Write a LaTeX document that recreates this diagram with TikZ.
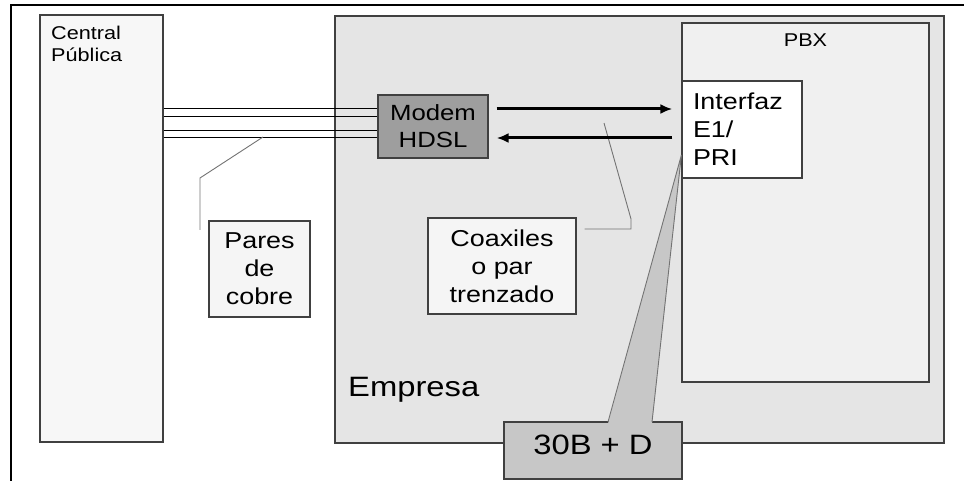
\documentclass[tikz,border=0pt]{standalone}
\usepackage{fontspec}
\setmainfont[FakeStretch=1.17]{Liberation Sans}
\usetikzlibrary{arrows.meta}

\begin{document}
\begin{tikzpicture}[x=1pt, y=-1pt, every node/.style={inner sep=0pt, align=center}, box/.style={draw=black!75, line width=1.2pt}, small/.style={font=\fontsize{18.5}{22}\selectfont}, mid/.style={font=\fontsize{23}{28}\selectfont}, big/.style={font=\fontsize{28}{32}\selectfont}, arr/.style={-{Latex[length=12pt,width=10pt]}, line width=3pt}, callout/.style={draw=black!55, line width=0.9pt}]
\useasboundingbox (0,0) rectangle (964,481);
\draw[line width=2pt] (11,481) -- (11,5.5) -- (964,5.5);
% outer areas
\node[box, fill=black!3, minimum width=123pt, minimum height=427pt] (central) at (101.5,228.5) {};
\node[small, anchor=north west, align=left] (centrallbl) at (51,25.5) {Central\\Pública};
\node[box, fill=black!10, minimum width=609pt, minimum height=427pt] (empresa) at (639.5,229.5) {};
\node[big, anchor=base west] (empresalbl) at (348,396) {Empresa};
\node[box, fill=black!6, minimum width=247pt, minimum height=359pt] (pbx) at (805.5,202.5) {};
\node[small] (pbxlbl) at (805.5,40) {PBX};
% equipment
\node[box, fill=white, mid, minimum height=97pt, text width=98pt, inner xsep=11pt, align=left] (iface) at (742,129.5) {Interfaz\\E1/\\PRI};
\node[box, fill=black!38, mid, font=\fontsize{22}{27}\selectfont, minimum width=110pt, minimum height=63pt] (modem) at (433,126.5) {Modem\\HDSL};
\node[box, fill=black!4, mid, minimum width=101pt, minimum height=96pt] (pares) at (259.5,269) {Pares\\de\\cobre};
\node[box, fill=black!4, mid, minimum width=148pt, minimum height=96pt] (coax) at (502,266) {Coaxiles\\o par\\trenzado};
% copper pairs
\foreach \y in {109,117,131,138} {\draw[line width=1pt] (central.east |- 0,\y) -- (modem.west |- 0,\y);}
\coordinate (parestip) at (263,137);
\draw[callout] (parestip) -- (200,178) -- (200,230);
\coordinate (coaxtip) at (604,123);
\draw[callout, shorten <=8pt] (coax.east |- 0,229) -- (631,229) -- (631,219) -- (coaxtip);
% E1 link
\draw[arr, shorten <=8pt, shorten >=9pt] (modem.east |- 0,109) -- (iface.west |- 0,109);
\draw[arr, shorten <=9pt, shorten >=8pt] (iface.west |- 0,138) -- (modem.east |- 0,138);
% channels
\node[box, fill=black!22, minimum width=178pt, minimum height=57pt] (tag) at (593,450.5) {};
\node[big, anchor=base] (taglbl) at (593,454) {30B + D};
\coordinate (tagtip) at (iface.west |- 0,155);
\fill[black!22] (608,423.5) -- (tagtip) -- (652,423.5) -- cycle;
\draw[callout] (608,422) -- (tagtip) -- (652,422);
\end{tikzpicture}
\end{document}
